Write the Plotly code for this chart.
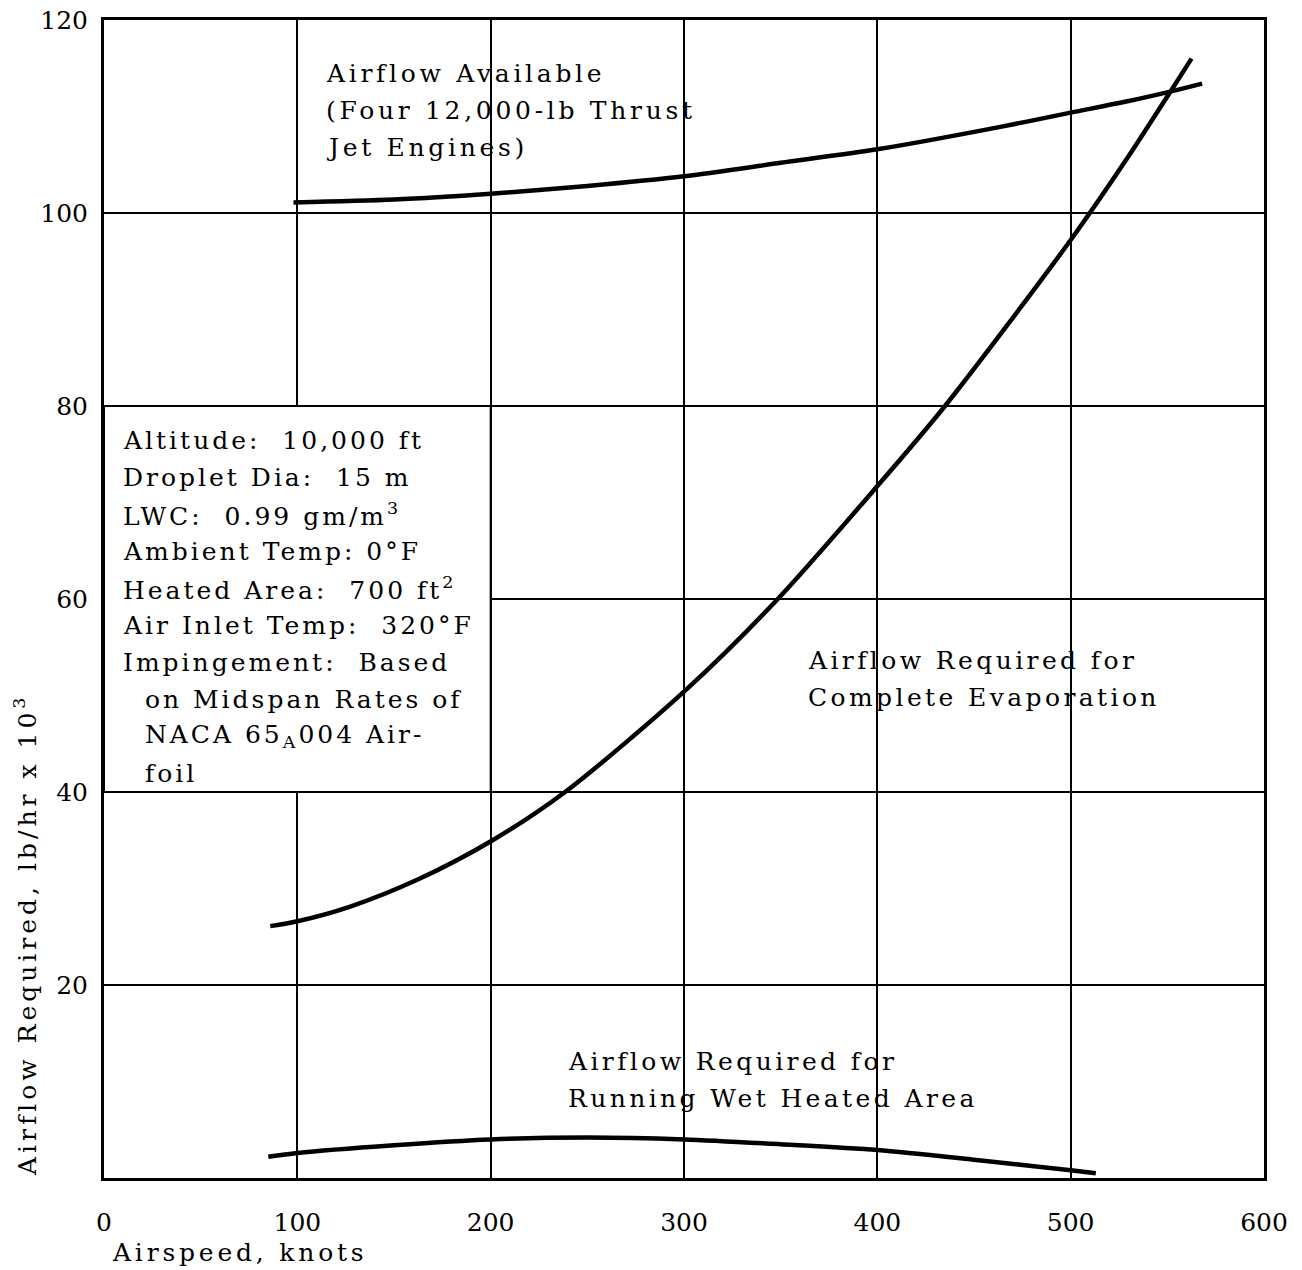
import plotly.graph_objects as go

# ---- data ----
speed_available = [98, 150, 200, 250, 300, 350, 400, 463, 500, 530, 552, 568]
airflow_available = [101.1, 101.4, 102.0, 102.8, 103.8, 105.2, 106.6, 108.9, 110.4, 111.6, 112.6, 113.4]

speed_evap = [86, 100, 127, 162, 201, 238.5, 300, 348.5, 400, 435, 500, 530, 552, 562.5]
airflow_evap = [26.1, 26.6, 28.1, 30.9, 35.0, 40.0, 50.4, 60.0, 71.7, 80.0, 97.2, 105.9, 112.7, 116.0]

speed_wet = [85, 100, 150, 200, 250, 300, 350, 400, 450, 500, 513]
airflow_wet = [2.2, 2.6, 3.4, 4.0, 4.2, 4.0, 3.5, 2.9, 1.9, 0.8, 0.5]

x_ticks = [0, 100, 200, 300, 400, 500, 600]
x_tick_labels = ["0", "100", "200", "300", "400", "500", "600"]
y_ticks = [0, 20, 40, 60, 80, 100, 120]
y_tick_labels = ["", "20", "40", "60", "80", "100", "120"]

conditions_lines = [
    "Altitude:  10,000 ft",
    "Droplet Dia:  15 m",
    "LWC:  0.99 gm/m<sup>3</sup>",
    "Ambient Temp: 0°F",
    "Heated Area:  700 ft<sup>2</sup>",
    "Air Inlet Temp:  320°F",
    "Impingement:  Based",
    "\u00a0\u00a0on Midspan Rates of",
    "\u00a0\u00a0NACA 65<sub>A</sub>004 Air-",
    "\u00a0\u00a0foil",
]
available_lines = ["Airflow Available", "(Four 12,000-lb Thrust", "Jet Engines)"]
evap_lines = ["Airflow Required for", "Complete Evaporation"]
wet_lines = ["Airflow Required for", "Running Wet Heated Area"]
y_title = "Airflow Required, lb/hr x 10<sup>3</sup>"
x_title = "Airspeed, knots"

FONT = "DejaVu Serif"
FS = 25
OFF = 8  # page body margin

# screen-pixel geometry of the plot area in the reference
PX_L, PX_R, PX_T, PX_B = 104, 1264, 20, 1178
W, H = 1302 - OFF, 1270 - OFF


def ydata(py):
    return (PX_B - py) / (PX_B - PX_T) * 120


def xdata(px):
    return (px - PX_L) / (PX_R - PX_L) * 600


def spaced(t, ls=3.7):
    return f'<span style="letter-spacing:{ls}px">{t}</span>'


fig = go.Figure()
for xs, ys in [(speed_available, airflow_available),
               (speed_evap, airflow_evap),
               (speed_wet, airflow_wet)]:
    fig.add_trace(go.Scatter(x=xs, y=ys, mode="lines",
                             line=dict(color="black", width=4.5, shape="spline", smoothing=0.8),
                             showlegend=False, hoverinfo="skip"))

# conditions box (covers the grid)
fig.add_shape(type="rect", x0=0, x1=200, y0=40, y1=80, xref="x", yref="y",
              fillcolor="white", line=dict(color="black", width=2), layer="above")


def add_lines(lines, px_left, py_first, spacing=37, ls=3.7):
    for i, t in enumerate(lines):
        fig.add_annotation(x=xdata(px_left), y=ydata(py_first + i * spacing), xref="x", yref="y",
                           text=spaced(t, ls), showarrow=False, xanchor="left", yanchor="middle",
                           font=dict(family=FONT, size=FS, color="black"))


add_lines(conditions_lines, 121, 440, ls=3.0)
add_lines(available_lines, 324, 73)
add_lines(evap_lines, 806, 660, ls=3.4)
add_lines(wet_lines, 566, 1061, ls=3.4)

# axis titles
fig.add_annotation(x=(25 - PX_L) / (PX_R - PX_L), y=(PX_B - 935) / (PX_B - PX_T),
                   xref="paper", yref="paper",
                   text=spaced(y_title, 4.0), textangle=-90,
                   showarrow=False, xanchor="center", yanchor="middle",
                   font=dict(family=FONT, size=FS, color="black"))
fig.add_annotation(x=(110 - PX_L) / (PX_R - PX_L), y=-(1252 - PX_B) / (PX_B - PX_T),
                   xref="paper", yref="paper",
                   text=spaced(x_title, 3.8), showarrow=False, xanchor="left", yanchor="middle",
                   font=dict(family=FONT, size=FS, color="black"))

fig.update_xaxes(range=[0, 600], tickvals=x_ticks, ticktext=x_tick_labels,
                 showgrid=True, gridcolor="black", gridwidth=2, zeroline=False,
                 showline=True, linecolor="black", linewidth=3, mirror=True,
                 ticks="", ticklabelstandoff=20, automargin=False,
                 ticklabeloverflow="allow",
                 tickfont=dict(family=FONT, size=FS, color="black"))
fig.update_yaxes(range=[0, 120], tickvals=y_ticks, ticktext=y_tick_labels,
                 showgrid=True, gridcolor="black", gridwidth=2, zeroline=False,
                 showline=True, linecolor="black", linewidth=3, mirror=True,
                 ticks="", ticklabelstandoff=8, automargin=False,
                 ticklabeloverflow="allow",
                 tickfont=dict(family=FONT, size=FS, color="black"))

fig.update_layout(width=W, height=H,
                  margin=dict(l=PX_L - OFF, r=W - (PX_R - OFF), t=PX_T - OFF, b=H - (PX_B - OFF)),
                  paper_bgcolor="white", plot_bgcolor="white")

fig.write_html("out.html")
